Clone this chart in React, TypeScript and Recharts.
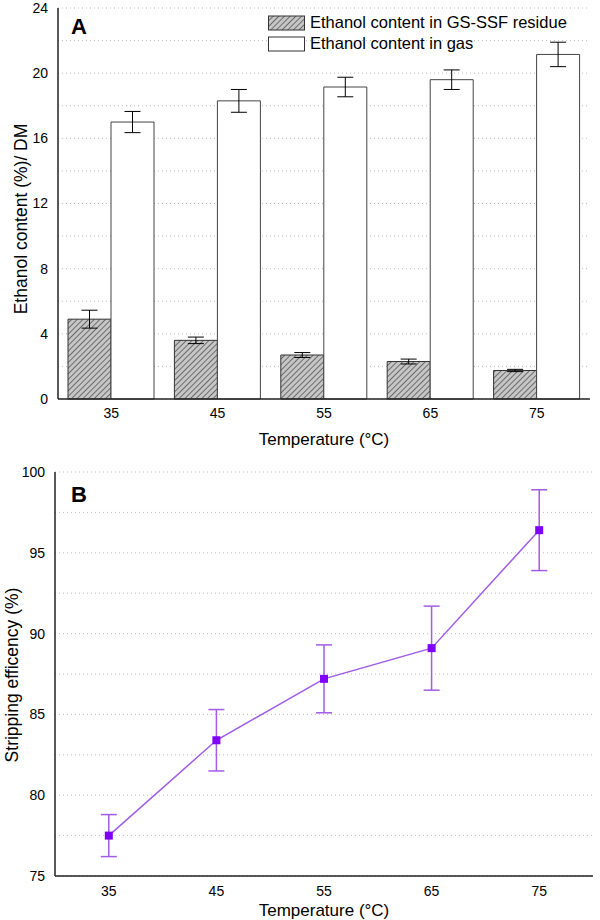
import React from "react";
import {
  BarChart,
  Bar,
  LineChart,
  Line,
  XAxis,
  YAxis,
  CartesianGrid,
  ErrorBar,
  Legend,
} from "recharts";

// panel A
const temps = ["35", "45", "55", "65", "75"];
const residue = [4.9, 3.6, 2.7, 2.3, 1.75];
const residueErr = [0.55, 0.2, 0.15, 0.15, 0.07];
const gas = [17.0, 18.3, 19.15, 19.6, 21.15];
const gasErr = [0.65, 0.7, 0.6, 0.6, 0.75];
const ticksA = [0, 2, 4, 6, 8, 10, 12, 14, 16, 18, 20, 22, 24];

// panel B
const tempsB = [35, 45, 55, 65, 75];
const stripping = [77.5, 83.4, 87.2, 89.1, 96.4];
const strippingErr = [1.3, 1.9, 2.1, 2.6, 2.5];
const ticksBx = [35, 40, 45, 50, 55, 60, 65, 70, 75];
const ticksBy = [75, 77.5, 80, 82.5, 85, 87.5, 90, 92.5, 95, 97.5, 100];

const dataA = temps.map((t, i) => ({
  temp: t,
  residue: residue[i],
  residueErr: residueErr[i],
  gas: gas[i],
  gasErr: gasErr[i],
}));

const dataB = tempsB.map((t, i) => ({
  temp: t,
  eff: stripping[i],
  err: strippingErr[i],
}));

const FONT = '"Liberation Sans", Arial, sans-serif';
const AXIS = "#222";
const tickStyle = { fill: "#000", fontSize: 14, fontFamily: FONT };
const titleStyle = { fill: "#000", fontSize: 17, fontFamily: FONT };

const legendItems = [
  { label: "Ethanol content in GS-SSF residue", fill: "url(#hatch)" },
  { label: "Ethanol content in gas", fill: "#fff" },
];

function LegendA() {
  return (
    <div style={{ fontFamily: FONT, fontSize: 16.5, color: "#000" }}>
      {legendItems.map((it) => (
        <div
          key={it.label}
          style={{ display: "flex", alignItems: "center", height: 21 }}
        >
          <svg width={38} height={16} style={{ marginRight: 4 }}>
            <rect
              x={0.5}
              y={1}
              width={36}
              height={14}
              fill={it.fill}
              stroke="#333"
            />
          </svg>
          <span>{it.label}</span>
        </div>
      ))}
    </div>
  );
}

// rotated y-axis title drawn as plain svg text
function YTitle({ x, y, children }: { x: number; y: number; children: string }) {
  return (
    <text
      x={x}
      y={y}
      transform={`rotate(-90 ${x} ${y})`}
      textAnchor="middle"
      dominantBaseline="central"
      fontFamily={FONT}
      fontSize={17.5}
      fill="#000"
    >
      {children}
    </text>
  );
}

export default function App() {
  return (
    <div
      style={{
        position: "absolute",
        left: 0,
        top: 0,
        width: 600,
        height: 920,
        background: "#fff",
        fontFamily: FONT,
      }}
    >
      <BarChart
        width={600}
        height={450}
        data={dataA}
        margin={{ top: 8, right: 10, left: 0, bottom: 5 }}
        barCategoryGap={10}
        barGap={0}
      >
        <defs>
          <pattern
            id="hatch"
            patternUnits="userSpaceOnUse"
            width={4}
            height={4}
            patternTransform="rotate(45)"
          >
            <rect width={4} height={4} fill="#c6c6c6" />
            <line x1={0} y1={0} x2={0} y2={4} stroke="#3a3a3a" strokeWidth={1.3} />
          </pattern>
        </defs>
        <CartesianGrid
          vertical={false}
          stroke="#bdbdbd"
          strokeDasharray="1 3"
        />
        <XAxis
          dataKey="temp"
          height={46}
          tick={tickStyle}
          tickLine={false}
          tickMargin={3}
          axisLine={{ stroke: AXIS, strokeWidth: 1.5 }}
          label={{
            value: "Temperature (°C)",
            position: "insideBottom",
            offset: 0,
            style: titleStyle,
          }}
        />
        <XAxis
          xAxisId="top"
          dataKey="temp"
          orientation="top"
          height={0}
          tick={false}
          tickLine={false}
          axisLine={{ stroke: AXIS, strokeWidth: 1.5 }}
        />
        <YAxis
          width={58}
          domain={[0, 24]}
          ticks={ticksA}
          interval={0}
          tickFormatter={(v) => (v % 4 === 0 ? String(v) : "")}
          tick={tickStyle}
          tickLine={false}
          tickMargin={4}
          axisLine={{ stroke: AXIS, strokeWidth: 1.5 }}
        />
        <YAxis
          yAxisId="right"
          orientation="right"
          width={0}
          domain={[0, 24]}
          tick={false}
          tickLine={false}
          axisLine={{ stroke: AXIS, strokeWidth: 1.5 }}
        />
        <Legend
          layout="vertical"
          align="center"
          verticalAlign="middle"
          content={() => <LegendA />}
          wrapperStyle={{ top: 12, left: 268, width: 330, height: 44 }}
        />
        <Bar
          dataKey="residue"
          fill="url(#hatch)"
          stroke="#333"
          strokeWidth={1}
          isAnimationActive={false}
        >
          <ErrorBar dataKey="residueErr" width={8} stroke="#000" strokeWidth={1} />
        </Bar>
        <Bar
          dataKey="gas"
          fill="#fff"
          stroke="#444"
          strokeWidth={1}
          isAnimationActive={false}
        >
          <ErrorBar dataKey="gasErr" width={8} stroke="#000" strokeWidth={1} />
        </Bar>
        <YTitle x={21} y={219}>
          Ethanol content (%)/ DM
        </YTitle>
        <text
          x={71}
          y={34}
          fontFamily={FONT}
          fontWeight="bold"
          fontSize={22}
          fill="#000"
        >
          A
        </text>
      </BarChart>

      <LineChart
        width={600}
        height={470}
        data={dataB}
        margin={{ top: 22, right: 7, left: 0, bottom: 0 }}
      >
        <CartesianGrid
          vertical={false}
          stroke="#bdbdbd"
          strokeDasharray="1 3"
        />
        <XAxis
          dataKey="temp"
          type="number"
          domain={[30, 80]}
          ticks={ticksBx}
          interval={0}
          tickFormatter={(v) => (v % 10 === 5 ? String(v) : "")}
          height={44}
          tick={tickStyle}
          tickLine={false}
          tickMargin={4}
          axisLine={{ stroke: AXIS, strokeWidth: 1.5 }}
          label={{
            value: "Temperature (°C)",
            position: "insideBottom",
            offset: 4,
            style: titleStyle,
          }}
        />
        <XAxis
          xAxisId="top"
          dataKey="temp"
          type="number"
          domain={[30, 80]}
          orientation="top"
          height={0}
          tick={false}
          tickLine={false}
          axisLine={{ stroke: AXIS, strokeWidth: 1.5 }}
        />
        <YAxis
          width={55}
          domain={[75, 100]}
          ticks={ticksBy}
          interval={0}
          tickFormatter={(v) => (v % 5 === 0 ? String(v) : "")}
          tick={tickStyle}
          tickLine={false}
          tickMargin={4}
          axisLine={{ stroke: AXIS, strokeWidth: 1.5 }}
        />
        <YAxis
          yAxisId="right"
          orientation="right"
          width={0}
          domain={[75, 100]}
          tick={false}
          tickLine={false}
          axisLine={{ stroke: AXIS, strokeWidth: 1.5 }}
        />
        <Line
          dataKey="eff"
          stroke="#a15ce6"
          strokeWidth={1.5}
          isAnimationActive={false}
          dot={(p: any) => (
            <rect
              key={`d${p.index}`}
              x={p.cx - 4}
              y={p.cy - 4}
              width={8}
              height={8}
              fill="#7f00ff"
            />
          )}
          activeDot={false}
        >
          <ErrorBar
            dataKey="err"
            direction="y"
            width={8}
            stroke="#a15ce6"
            strokeWidth={1.5}
          />
        </Line>
        <YTitle x={12} y={225}>
          Stripping efficency (%)
        </YTitle>
        <text
          x={71}
          y={52}
          fontFamily={FONT}
          fontWeight="bold"
          fontSize={22}
          fill="#000"
        >
          B
        </text>
      </LineChart>
    </div>
  );
}
